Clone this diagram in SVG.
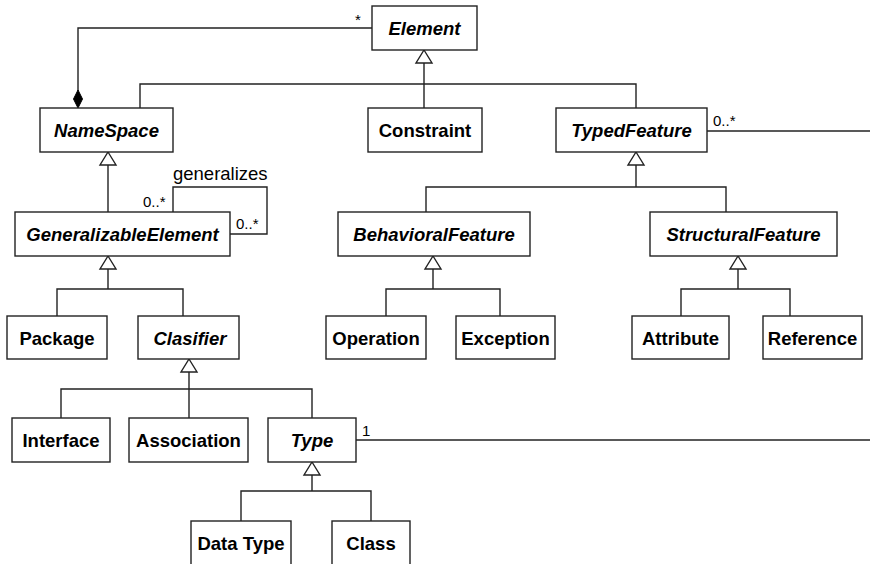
<svg xmlns="http://www.w3.org/2000/svg" xmlns:xlink="http://www.w3.org/1999/xlink" width="870" height="564" viewBox="0 0 870 564">
  <style>
    .box { fill: #ffffff; stroke: #222222; stroke-width: 1.4; }
    .lbl { font-family: "Liberation Sans", Arial, sans-serif; font-size: 18.5px; font-weight: bold; fill: #000000; text-anchor: middle; }
    .abs { font-style: italic; }
    .wire { fill: none; stroke: #222222; stroke-width: 1.4; }
    .mult { font-family: "Liberation Sans", Arial, sans-serif; font-size: 15px; fill: #000000; }
    .role { font-family: "Liberation Sans", Arial, sans-serif; font-size: 18.5px; fill: #000000; }
  </style>
  <defs>
    <!-- hollow generalization head, apex at origin pointing up -->
    <path id="gen" d="M0,0 L8,13 L-8,13 Z" fill="#ffffff" stroke="#222222" stroke-width="1.4"/>
  </defs>

  <rect width="870" height="564" fill="#ffffff"/>

  <g id="connectors">
    <!-- composition NameSpace <>- Element -->
    <path class="wire" d="M372,28 H78 V91"/>
    <polygon points="78,90 82.5,99 78,108 73.5,99" fill="#000000" stroke="#000000" stroke-width="1"/>
    <text class="mult" x="355" y="25">*</text>

    <!-- Element generalization -->
    <path class="wire" d="M424,63 V108 M140,108 V84 H636 V108"/>
    <use xlink:href="#gen" x="424" y="50"/>

    <!-- NameSpace -> GeneralizableElement -->
    <path class="wire" d="M108,165 V212"/>
    <use xlink:href="#gen" x="108" y="152"/>

    <!-- generalizes self association -->
    <path class="wire" d="M173,212 V187 H267 V234 H230"/>
    <text class="role" x="173" y="180">generalizes</text>
    <text class="mult" x="143" y="207">0..*</text>
    <text class="mult" x="236" y="229">0..*</text>

    <!-- GeneralizableElement children -->
    <path class="wire" d="M108,269 V289 M57,316 V289 H183 V316"/>
    <use xlink:href="#gen" x="108" y="256"/>

    <!-- Clasifier children -->
    <path class="wire" d="M189,372 V418 M61,418 V389 H312 V418"/>
    <use xlink:href="#gen" x="189" y="359"/>

    <!-- Type children -->
    <path class="wire" d="M312,475 V491 M241,521 V491 H371 V521"/>
    <use xlink:href="#gen" x="312" y="462"/>

    <!-- TypedFeature children -->
    <path class="wire" d="M636,165 V187 M426,212 V187 H726 V212"/>
    <use xlink:href="#gen" x="636" y="152"/>

    <!-- BehavioralFeature children -->
    <path class="wire" d="M433,269 V289 M386,316 V289 H500 V316"/>
    <use xlink:href="#gen" x="433" y="256"/>

    <!-- StructuralFeature children -->
    <path class="wire" d="M738,269 V289 M681,316 V289 H790 V316"/>
    <use xlink:href="#gen" x="738" y="256"/>

    <!-- TypedFeature / Type association -->
    <path class="wire" d="M707,131 H870"/>
    <text class="mult" x="713" y="126">0..*</text>
    <path class="wire" d="M356,440 H870"/>
    <text class="mult" x="362" y="436">1</text>
  </g>

  <g id="Element">
    <rect class="box" x="372" y="6" width="105" height="44"/>
    <text class="lbl abs" x="424.5" y="35">Element</text>
  </g>
  <g id="NameSpace">
    <rect class="box" x="40" y="108" width="133" height="44"/>
    <text class="lbl abs" x="106.5" y="137">NameSpace</text>
  </g>
  <g id="Constraint">
    <rect class="box" x="368" y="108" width="114" height="44"/>
    <text class="lbl" x="425" y="137">Constraint</text>
  </g>
  <g id="TypedFeature">
    <rect class="box" x="556" y="108" width="151" height="44"/>
    <text class="lbl abs" x="631.5" y="137">TypedFeature</text>
  </g>
  <g id="GeneralizableElement">
    <rect class="box" x="15" y="212" width="215" height="44"/>
    <text class="lbl abs" x="122.5" y="241">GeneralizableElement</text>
  </g>
  <g id="BehavioralFeature">
    <rect class="box" x="338" y="212" width="192" height="44"/>
    <text class="lbl abs" x="434" y="241">BehavioralFeature</text>
  </g>
  <g id="StructuralFeature">
    <rect class="box" x="650" y="212" width="187" height="44"/>
    <text class="lbl abs" x="743.5" y="241">StructuralFeature</text>
  </g>
  <g id="Package">
    <rect class="box" x="7" y="316" width="100" height="43"/>
    <text class="lbl" x="57" y="345">Package</text>
  </g>
  <g id="Clasifier">
    <rect class="box" x="138" y="316" width="101" height="43"/>
    <text class="lbl abs" x="190" y="345">Clasifier</text>
  </g>
  <g id="Operation">
    <rect class="box" x="326" y="316" width="100" height="43"/>
    <text class="lbl" x="376" y="345">Operation</text>
  </g>
  <g id="Exception">
    <rect class="box" x="456" y="316" width="99" height="43"/>
    <text class="lbl" x="505.5" y="345">Exception</text>
  </g>
  <g id="Attribute">
    <rect class="box" x="632" y="316" width="97" height="43"/>
    <text class="lbl" x="680.5" y="345">Attribute</text>
  </g>
  <g id="Reference">
    <rect class="box" x="763" y="316" width="99" height="43"/>
    <text class="lbl" x="812.5" y="345">Reference</text>
  </g>
  <g id="Interface">
    <rect class="box" x="12" y="418" width="98" height="44"/>
    <text class="lbl" x="61" y="447">Interface</text>
  </g>
  <g id="Association">
    <rect class="box" x="129" y="418" width="119" height="44"/>
    <text class="lbl" x="188.5" y="447">Association</text>
  </g>
  <g id="Type">
    <rect class="box" x="268" y="418" width="88" height="44"/>
    <text class="lbl abs" x="312" y="447">Type</text>
  </g>
  <g id="DataType">
    <rect class="box" x="191" y="521" width="100" height="50"/>
    <text class="lbl" x="241" y="550">Data Type</text>
  </g>
  <g id="Class">
    <rect class="box" x="332" y="521" width="78" height="50"/>
    <text class="lbl" x="371" y="550">Class</text>
  </g>
</svg>
